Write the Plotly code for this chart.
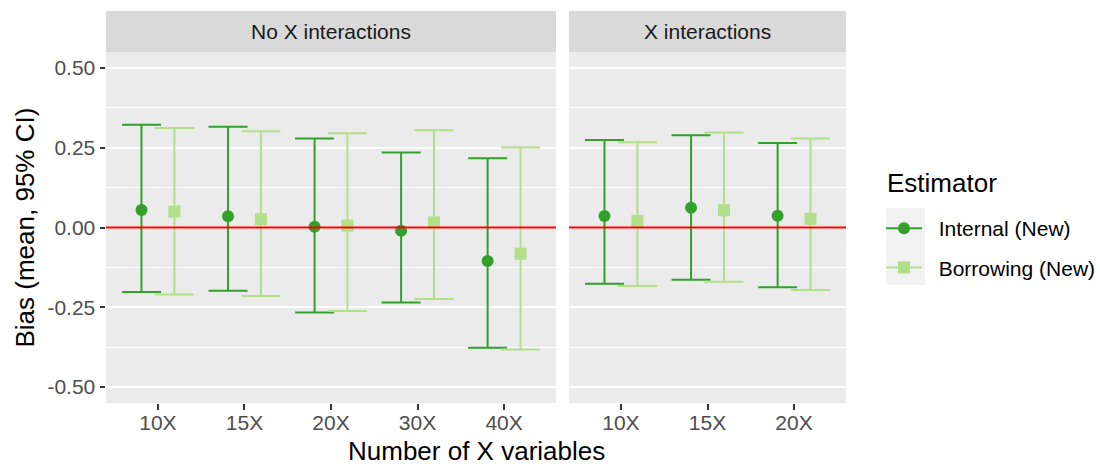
import plotly.graph_objects as go

# ---- data ----
cats_left = ["10X", "15X", "20X", "30X", "40X"]
cats_right = ["10X", "15X", "20X"]

int_left_mean = [0.055, 0.035, 0.002, -0.010, -0.105]
int_left_lower = [-0.202, -0.198, -0.266, -0.235, -0.377]
int_left_upper = [0.322, 0.316, 0.279, 0.235, 0.217]

bor_left_mean = [0.050, 0.026, 0.006, 0.016, -0.082]
bor_left_lower = [-0.210, -0.215, -0.262, -0.224, -0.382]
bor_left_upper = [0.312, 0.302, 0.295, 0.305, 0.251]

int_right_mean = [0.036, 0.062, 0.037]
int_right_lower = [-0.176, -0.164, -0.187]
int_right_upper = [0.274, 0.289, 0.265]

bor_right_mean = [0.021, 0.054, 0.027]
bor_right_lower = [-0.183, -0.170, -0.196]
bor_right_upper = [0.267, 0.298, 0.279]

panel_titles = ["No X interactions", "X interactions"]
series_names = ["Internal (New)", "Borrowing (New)"]
y_ticks = [-0.5, -0.25, 0.0, 0.25, 0.5]
y_ticklabels = ["-0.50", "-0.25", "0.00", "0.25", "0.50"]

# ---- style ----
C_INT = "#33a02c"
C_BOR = "#b2df8a"
FONT = "Liberation Sans, Arial, sans-serif"
DODGE = 0.19
PAD = "\u00a0\u00a0"

W, H = 1100, 466
ML, MR, MT, MB = 106, 254, 11, 63
PW, PH = W - ML - MR, H - MT - MB


def px_x(p):
    return (p - ML) / PW


def px_y(p):
    return 1 - (p - MT) / PH


ydom_top = px_y(52)
x1dom = [0, px_x(556)]
x2dom = [px_x(569), 1]

fig = go.Figure()


def add_series(cats, mean, lower, upper, name, color, symbol, off, xa, ya):
    xs = [i + 1 + off for i in range(len(cats))]
    fig.add_trace(go.Scatter(
        x=xs, y=mean, mode="markers", name=name, showlegend=False,
        xaxis=xa, yaxis=ya,
        marker=dict(color=color, size=12, symbol=symbol, line=dict(width=0)),
        error_y=dict(type="data", symmetric=False,
                     array=[u - m for u, m in zip(upper, mean)],
                     arrayminus=[m - l for m, l in zip(mean, lower)],
                     color=color, thickness=2, width=19.5),
    ))


add_series(cats_left, int_left_mean, int_left_lower, int_left_upper,
           series_names[0], C_INT, "circle", -DODGE, "x", "y")
add_series(cats_left, bor_left_mean, bor_left_lower, bor_left_upper,
           series_names[1], C_BOR, "square", DODGE, "x", "y")
add_series(cats_right, int_right_mean, int_right_lower, int_right_upper,
           series_names[0], C_INT, "circle", -DODGE, "x2", "y2")
add_series(cats_right, bor_right_mean, bor_right_lower, bor_right_upper,
           series_names[1], C_BOR, "square", DODGE, "x2", "y2")

# legend entries
for nm, col, sym in [(series_names[0], C_INT, "circle"), (series_names[1], C_BOR, "square")]:
    fig.add_trace(go.Scatter(
        x=[None], y=[None], mode="lines+markers", name=PAD + nm, legendgroup=nm,
        line=dict(color=col, width=2),
        marker=dict(color=col, size=12, symbol=sym),
        xaxis="x", yaxis="y",
    ))

shapes = []
annotations = []
for xr, yr in [("x", "y"), ("x2", "y2")]:
    shapes.append(dict(type="rect", xref=f"{xr} domain", yref=f"{yr} domain",
                       x0=0, x1=1, y0=0, y1=1, fillcolor="#ebebeb",
                       line=dict(width=0), layer="below"))
    shapes.append(dict(type="line", xref=f"{xr} domain", yref=yr,
                       x0=0, x1=1, y0=0, y1=0,
                       line=dict(color="red", width=2), layer="above"))
# strips
for dom, title in [(x1dom, panel_titles[0]), (x2dom, panel_titles[1])]:
    shapes.append(dict(type="rect", xref="paper", yref="paper",
                       x0=dom[0], x1=dom[1], y0=ydom_top, y1=1,
                       fillcolor="#d9d9d9", line=dict(width=0), layer="below"))
    annotations.append(dict(text=title, xref="paper", yref="paper",
                            x=(dom[0] + dom[1]) / 2, y=(ydom_top + 1) / 2,
                            showarrow=False, xanchor="center", yanchor="middle",
                            font=dict(size=21, color="#1a1a1a", family=FONT)))
# legend key background
shapes.append(dict(type="rect", xref="paper", yref="paper",
                   x0=px_x(886), x1=px_x(925), y0=px_y(285), y1=px_y(208),
                   fillcolor="#f2f2f2", line=dict(width=0), layer="below"))

# legend title
annotations.append(dict(text="Estimator", xref="paper", yref="paper",
                        x=px_x(885), y=px_y(183), showarrow=False,
                        xanchor="left", yanchor="middle",
                        font=dict(size=26, color="black", family=FONT)))

# axis titles
annotations.append(dict(text="Number of X variables", xref="paper", yref="paper",
                        x=0.5, y=px_y(451), showarrow=False,
                        xanchor="center", yanchor="middle",
                        font=dict(size=26, color="black", family=FONT)))
annotations.append(dict(text="Bias (mean, 95% CI)", xref="paper", yref="paper",
                        x=px_x(24), y=(0 + ydom_top) / 2, showarrow=False,
                        textangle=-90, xanchor="center", yanchor="middle",
                        font=dict(size=26, color="black", family=FONT)))

xcommon = dict(showgrid=False, zeroline=False, ticks="outside", ticklen=5.5,
               tickwidth=2, tickcolor="#333333", showline=False,
               ticklabelstandoff=-5,
               tickfont=dict(size=21, color="#4d4d4d", family=FONT))
ycommon = dict(range=[-0.55, 0.55], zeroline=False, showline=False,
               tickmode="array", tickvals=y_ticks, ticktext=y_ticklabels,
               showgrid=True, gridcolor="white", gridwidth=2,
               minor=dict(tickmode="array", tickvals=[-0.375, -0.125, 0.125, 0.375],
                          showgrid=True, gridcolor="white", gridwidth=1, ticks=""),
               domain=[0, ydom_top])

fig.update_layout(
    width=W, height=H,
    margin=dict(l=ML, r=MR, t=MT, b=MB, pad=0, autoexpand=False),
    paper_bgcolor="white", plot_bgcolor="white",
    font=dict(family=FONT),
    xaxis=dict(domain=x1dom, range=[0.4, len(cats_left) + 0.6],
               tickmode="array", tickvals=list(range(1, len(cats_left) + 1)),
               ticktext=cats_left, **xcommon),
    xaxis2=dict(domain=x2dom, range=[0.4, len(cats_right) + 0.6],
                tickmode="array", tickvals=list(range(1, len(cats_right) + 1)),
                ticktext=cats_right, anchor="y2", **xcommon),
    yaxis=dict(ticks="outside", ticklen=5.5, tickwidth=2, tickcolor="#333333",
               tickfont=dict(size=21, color="#4d4d4d", family=FONT), **ycommon),
    yaxis2=dict(anchor="x2", matches="y", showticklabels=False, ticks="", **ycommon),
    legend=dict(x=px_x(881), y=px_y(208), xanchor="left", yanchor="top",
                font=dict(size=21, color="black", family=FONT),
                bgcolor="rgba(0,0,0,0)", tracegroupgap=9, itemwidth=36),
    shapes=shapes, annotations=annotations,
)

fig.write_html("out.html")
